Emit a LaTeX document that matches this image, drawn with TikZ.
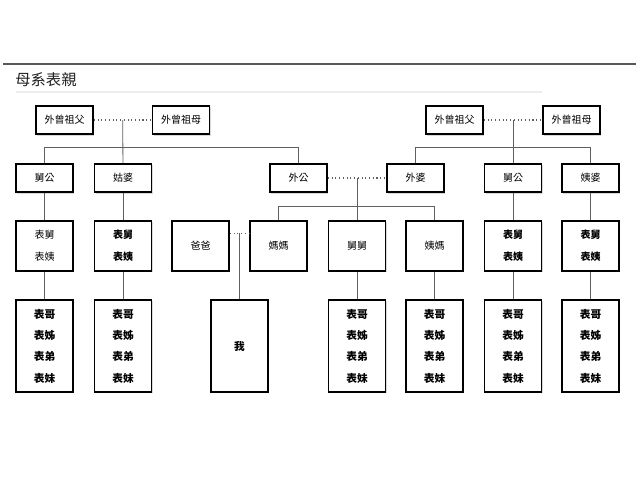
\documentclass[tikz,border=0pt]{standalone}
\usepackage{fontspec}
\setmainfont{Noto Sans CJK TC}
\usetikzlibrary{calc,shadows}

\tikzset{
  kin/.style={draw, line width=1.35pt, fill=white, inner sep=0pt,
      minimum width=42.75pt, align=center,
      font=\fontsize{7.5}{16.5}\selectfont,
      drop shadow={shadow xshift=0.9pt,shadow yshift=-0.9pt,opacity=0.3}},
  elder/.style={kin, minimum height=21.5pt},
  parent/.style={kin, minimum height=37.5pt},
  cousin/.style={kin, minimum height=69pt, font=\fontsize{8}{16}\selectfont\bfseries},
  tie/.style={draw=gray!75!black, line width=0.6pt},
  wed/.style={draw=gray!75!black, line width=0.8pt, dotted},
}
\def\RowA {120}
\def\RowB {178}
\def\RowC {246}
\def\RowD {346}

\begin{document}
\begin{tikzpicture}[x=0.75pt,y=-0.75pt]
        \useasboundingbox (0,0) rectangle (640,480);
        % title
        \draw[gray!70!black, line width=1.1pt] (3,64) -- (636,64);
        \draw[gray!15, line width=0.8pt] (16,92) -- (542,92);
        \node[anchor=west, inner sep=0pt, text=gray!25!black,
              font=\fontsize{11.5}{11.5}\selectfont] (title) at (15,80) {母系表親};

        % great-grandparents
        \node[elder] (ggfL) at (64.5,\RowA) {外曾祖父};
        \node[elder] (ggmL) at (181,\RowA) {外曾祖母};
        \node[elder] (ggfR) at (454.5,\RowA) {外曾祖父};
        \node[elder] (ggmR) at (571.5,\RowA) {外曾祖母};

        % grandparents' generation
        \node[elder] (jgL) at (44.5,\RowB) {舅公};
        \node[elder] (gpL) at (123,\RowB) {姑婆};
        \node[elder] (wg) at (298.5,\RowB) {外公};
        \node[elder] (wp) at (415.5,\RowB) {外婆};
        \node[elder] (jgR) at (513,\RowB) {舅公};
        \node[elder] (ypR) at (590.5,\RowB) {姨婆};

        % parents' generation
        \node[parent] (uA) at (44.5,\RowC) {表舅\\表姨};
        \node[parent, font=\fontsize{7.5}{16.5}\selectfont\bfseries] (uB) at (123,\RowC) {表舅\\表姨};
        \node[parent] (dad) at (200.5,\RowC) {爸爸};
        \node[parent] (mom) at (278.5,\RowC) {媽媽};
        \node[parent] (jj) at (357,\RowC) {舅舅};
        \node[parent] (ym) at (434.5,\RowC) {姨媽};
        \node[parent, font=\fontsize{7.5}{16.5}\selectfont\bfseries] (uF) at (513,\RowC) {表舅\\表姨};
        \node[parent, font=\fontsize{7.5}{16.5}\selectfont\bfseries] (uG) at (590.5,\RowC) {表舅\\表姨};

        % own generation
        \foreach \x/\n in {44.5/A,123/B,357/D,434.5/E,513/F,590.5/G} {
            \node[cousin] (c\n) at (\x,\RowD) {表哥\\表姊\\表弟\\表妹};
          }
        \node[cousin] (me) at (239.5,\RowD) {我};

        % couples
        \draw[wed] (ggfL) -- coordinate (mL) (ggmL);
        \draw[wed] (ggfR) -- coordinate (mR) (ggmR);
        \draw[wed] (wg) -- coordinate (mC) (wp);
        \draw[wed] ([yshift=-9.75pt]dad.north east) -- coordinate (mP) ([yshift=-9.75pt]mom.north west);

        % children
        \draw[tie] (mL) -- (gpL);
        \draw[tie] (jgL.north) -- ++(0,-15) -| (wg.north);
        \draw[tie] (mR) -- (jgR);
        \draw[tie] (wp.north) -- ++(0,-15) -| (ypR.north);
        \draw[tie] (mC) -- (jj);
        \draw[tie] (mom.north) -- ++(0,-14) -| (ym.north);
        \draw[tie] (mP) -- (me);
        \foreach \a/\b in {jgL/uA,gpL/uB,jgR/uF,ypR/uG,uA/cA,uB/cB,jj/cD,ym/cE,uF/cF,uG/cG} {
            \draw[tie] (\a) -- (\b);
          }
      \end{tikzpicture}
\end{document}
